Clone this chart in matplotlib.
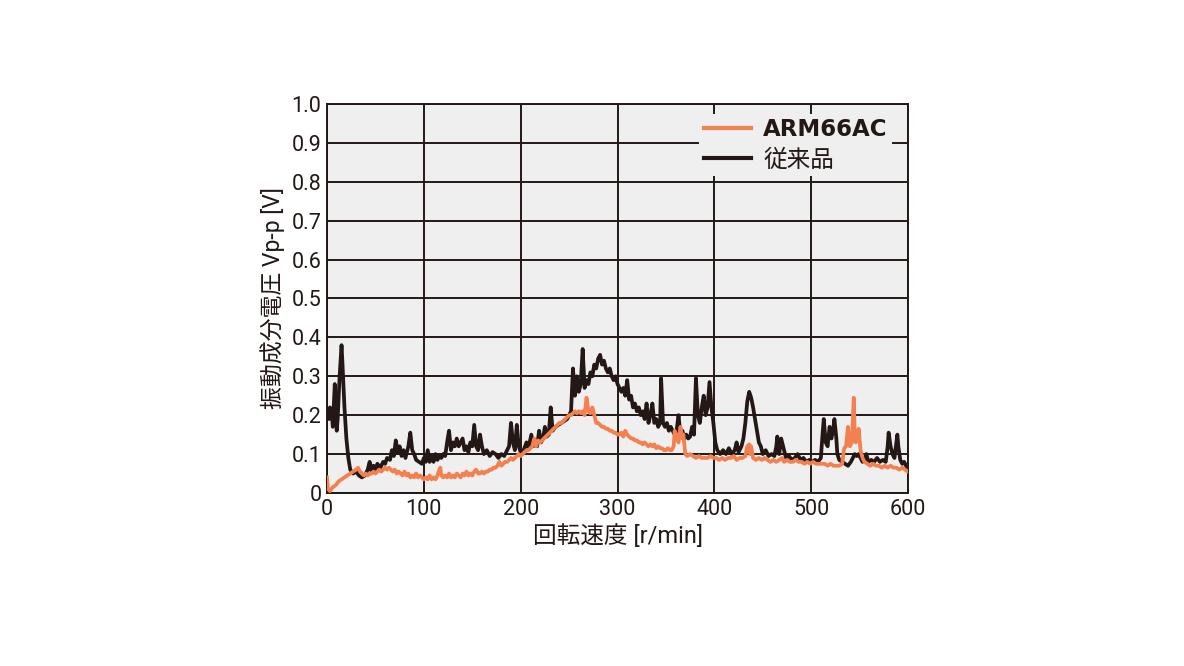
import matplotlib
matplotlib.use("Agg")
import matplotlib.pyplot as plt

# 従来品 (conventional product)
conv_x = [0, 2, 3, 5, 6, 8, 9, 10, 11, 13, 15, 16, 18, 20, 22, 24, 27, 30, 33, 36, 39, 42, 44, 46, 48, 50,
          52, 55, 58, 60, 62, 65, 67, 69, 71, 73, 75, 77, 79, 81, 84, 86, 88, 90, 92, 95, 98, 100, 102, 104,
          106, 108, 110, 112, 114, 116, 118, 120, 122, 124, 126, 128, 130, 132, 134, 136, 138, 140, 142, 144,
          146, 148, 150, 152, 154, 156, 158, 160, 162, 165, 168, 171, 174, 177, 180, 183, 186, 188, 190, 192,
          194, 196, 198, 200, 203, 206, 208, 211, 213, 215, 217, 219, 221, 223, 225, 227, 229, 231, 233, 236,
          239, 242, 245, 248, 250, 252, 254, 256, 258, 260, 262, 264, 266, 268, 270, 272, 274, 276, 278, 280,
          282, 284, 286, 288, 290, 292, 294, 296, 298, 300, 302, 304, 306, 308, 310, 312, 314, 316, 318, 320,
          322, 324, 326, 328, 330, 332, 334, 336, 338, 340, 342, 344, 345, 347, 349, 351, 353, 355, 357, 359,
          361, 363, 365, 367, 369, 371, 373, 375, 377, 379, 381, 383, 385, 387, 389, 391, 393, 395, 397, 399,
          401, 403, 406, 409, 412, 415, 418, 421, 423, 425, 428, 430, 432, 434, 436, 438, 440, 442, 444, 446,
          448, 450, 453, 456, 459, 462, 464, 465, 467, 469, 471, 474, 477, 480, 483, 486, 489, 492, 495, 498,
          501, 504, 507, 510, 512, 513, 515, 517, 519, 521, 523, 524, 526, 527, 529, 532, 535, 538, 541, 543,
          545, 547, 549, 551, 553, 555, 557, 559, 562, 565, 568, 571, 574, 577, 579, 580, 582, 584, 586, 588,
          589, 590, 592, 594, 596, 598, 600]
conv_y = [0.21, 0.19, 0.22, 0.20, 0.17, 0.28, 0.22, 0.16, 0.19, 0.30, 0.38, 0.33, 0.22, 0.14, 0.09, 0.06,
          0.05, 0.055, 0.045, 0.04, 0.045, 0.06, 0.08, 0.055, 0.07, 0.06, 0.075, 0.065, 0.08, 0.075, 0.09,
          0.085, 0.11, 0.095, 0.135, 0.105, 0.12, 0.095, 0.11, 0.09, 0.12, 0.155, 0.11, 0.10, 0.085, 0.08,
          0.075, 0.09, 0.08, 0.11, 0.08, 0.095, 0.08, 0.10, 0.085, 0.095, 0.09, 0.10, 0.095, 0.13, 0.16, 0.11,
          0.13, 0.12, 0.14, 0.12, 0.13, 0.14, 0.11, 0.12, 0.105, 0.13, 0.12, 0.175, 0.12, 0.11, 0.15, 0.12,
          0.10, 0.11, 0.095, 0.105, 0.10, 0.09, 0.10, 0.095, 0.11, 0.12, 0.18, 0.13, 0.11, 0.175, 0.12, 0.105,
          0.11, 0.13, 0.115, 0.15, 0.12, 0.13, 0.12, 0.16, 0.13, 0.14, 0.17, 0.145, 0.15, 0.22, 0.16, 0.17,
          0.175, 0.18, 0.185, 0.19, 0.20, 0.21, 0.32, 0.25, 0.30, 0.26, 0.28, 0.37, 0.27, 0.29, 0.28, 0.31,
          0.30, 0.33, 0.32, 0.345, 0.355, 0.33, 0.34, 0.32, 0.31, 0.32, 0.30, 0.29, 0.30, 0.28, 0.27, 0.26,
          0.27, 0.25, 0.29, 0.24, 0.25, 0.22, 0.23, 0.21, 0.22, 0.20, 0.21, 0.19, 0.23, 0.18, 0.20, 0.23, 0.18,
          0.19, 0.17, 0.18, 0.295, 0.18, 0.17, 0.18, 0.16, 0.17, 0.16, 0.15, 0.16, 0.20, 0.15, 0.16, 0.14,
          0.15, 0.14, 0.145, 0.17, 0.15, 0.295, 0.20, 0.18, 0.22, 0.25, 0.20, 0.22, 0.285, 0.22, 0.18, 0.13,
          0.11, 0.10, 0.11, 0.10, 0.115, 0.10, 0.11, 0.13, 0.105, 0.12, 0.14, 0.18, 0.235, 0.26, 0.245, 0.22,
          0.19, 0.16, 0.13, 0.12, 0.10, 0.11, 0.095, 0.10, 0.095, 0.12, 0.145, 0.10, 0.14, 0.12, 0.09, 0.095,
          0.085, 0.09, 0.10, 0.085, 0.09, 0.08, 0.085, 0.08, 0.085, 0.08, 0.09, 0.16, 0.19, 0.13, 0.12, 0.17,
          0.14, 0.17, 0.19, 0.14, 0.10, 0.085, 0.08, 0.075, 0.07, 0.08, 0.09, 0.10, 0.095, 0.10, 0.09, 0.08,
          0.085, 0.10, 0.08, 0.085, 0.08, 0.09, 0.08, 0.085, 0.08, 0.12, 0.155, 0.12, 0.10, 0.09, 0.13, 0.15,
          0.12, 0.085, 0.075, 0.08, 0.07, 0.06]

# ARM66AC
arm_x = [0, 1, 3, 6, 9, 12, 15, 18, 21, 24, 27, 30, 32, 34, 36, 38, 40, 42, 44, 46, 48, 50, 52, 54, 56, 58,
         60, 62, 64, 66, 68, 70, 72, 74, 76, 78, 80, 82, 84, 86, 88, 90, 92, 94, 96, 98, 100, 102, 104, 106,
         108, 110, 112, 114, 116, 117, 118, 120, 122, 124, 126, 128, 130, 132, 134, 136, 138, 140, 142, 144,
         146, 148, 150, 152, 154, 156, 158, 160, 162, 164, 166, 168, 170, 172, 174, 176, 178, 180, 182, 184,
         186, 188, 190, 192, 194, 196, 198, 200, 202, 204, 206, 208, 210, 212, 214, 216, 218, 220, 222, 224,
         226, 228, 230, 232, 234, 236, 238, 240, 242, 244, 246, 248, 250, 252, 254, 256, 258, 260, 262, 264,
         266, 268, 270, 272, 274, 276, 278, 280, 282, 284, 286, 288, 290, 292, 294, 296, 298, 300, 302, 304,
         306, 308, 310, 312, 314, 316, 318, 320, 322, 324, 326, 328, 330, 332, 334, 336, 338, 340, 342, 344,
         346, 348, 350, 352, 354, 356, 358, 359, 361, 363, 365, 367, 368, 370, 372, 375, 378, 381, 384, 387,
         390, 393, 396, 399, 402, 405, 408, 411, 414, 417, 420, 423, 426, 429, 432, 434, 436, 437, 438, 440,
         443, 446, 449, 452, 455, 458, 461, 464, 467, 470, 472, 475, 478, 481, 484, 487, 490, 493, 496, 499,
         502, 505, 508, 511, 514, 517, 520, 523, 526, 529, 532, 534, 536, 538, 540, 542, 544, 545, 546, 548,
         549, 551, 553, 555, 558, 561, 564, 567, 570, 573, 576, 579, 582, 585, 588, 591, 594, 597, 600]
arm_y = [0.04, 0.01, 0.005, 0.015, 0.02, 0.03, 0.035, 0.04, 0.045, 0.05, 0.055, 0.06, 0.065, 0.055, 0.05,
         0.045, 0.05, 0.045, 0.05, 0.05, 0.055, 0.05, 0.055, 0.06, 0.055, 0.06, 0.065, 0.06, 0.065, 0.06,
         0.055, 0.06, 0.05, 0.055, 0.05, 0.045, 0.055, 0.045, 0.05, 0.04, 0.045, 0.04, 0.05, 0.04, 0.045,
         0.04, 0.035, 0.04, 0.035, 0.045, 0.035, 0.04, 0.035, 0.045, 0.06, 0.065, 0.045, 0.04, 0.045, 0.04,
         0.05, 0.04, 0.045, 0.04, 0.05, 0.045, 0.04, 0.05, 0.045, 0.055, 0.045, 0.05, 0.045, 0.055, 0.06,
         0.05, 0.05, 0.055, 0.05, 0.055, 0.055, 0.06, 0.06, 0.065, 0.065, 0.07, 0.08, 0.07, 0.075, 0.08,
         0.08, 0.085, 0.09, 0.085, 0.09, 0.095, 0.10, 0.095, 0.10, 0.105, 0.11, 0.11, 0.115, 0.12, 0.14,
         0.12, 0.135, 0.13, 0.135, 0.14, 0.145, 0.15, 0.155, 0.16, 0.165, 0.17, 0.175, 0.18, 0.18, 0.185,
         0.19, 0.195, 0.20, 0.20, 0.205, 0.21, 0.205, 0.21, 0.205, 0.21, 0.20, 0.245, 0.21, 0.205, 0.22,
         0.20, 0.18, 0.18, 0.175, 0.17, 0.17, 0.165, 0.165, 0.16, 0.16, 0.155, 0.155, 0.15, 0.15, 0.155,
         0.145, 0.16, 0.15, 0.145, 0.14, 0.14, 0.135, 0.135, 0.13, 0.13, 0.125, 0.13, 0.125, 0.12, 0.125,
         0.12, 0.125, 0.115, 0.12, 0.115, 0.115, 0.11, 0.11, 0.115, 0.11, 0.11, 0.12, 0.16, 0.14, 0.13,
         0.17, 0.14, 0.15, 0.10, 0.095, 0.10, 0.095, 0.09, 0.095, 0.09, 0.09, 0.09, 0.095, 0.09, 0.09,
         0.085, 0.09, 0.085, 0.09, 0.09, 0.095, 0.085, 0.09, 0.09, 0.095, 0.12, 0.125, 0.10, 0.12, 0.09,
         0.085, 0.09, 0.085, 0.09, 0.085, 0.08, 0.085, 0.08, 0.085, 0.09, 0.08, 0.085, 0.08, 0.08, 0.085,
         0.08, 0.08, 0.075, 0.08, 0.075, 0.08, 0.075, 0.075, 0.075, 0.075, 0.07, 0.075, 0.07, 0.07, 0.07,
         0.075, 0.115, 0.12, 0.17, 0.12, 0.13, 0.245, 0.15, 0.13, 0.14, 0.165, 0.11, 0.09, 0.08, 0.075,
         0.07, 0.075, 0.07, 0.07, 0.065, 0.07, 0.065, 0.07, 0.065, 0.065, 0.06, 0.065, 0.06, 0.055]

x_ticks = [0, 100, 200, 300, 400, 500, 600]
y_ticks = [0, 0.1, 0.2, 0.3, 0.4, 0.5, 0.6, 0.7, 0.8, 0.9, 1.0]
y_tick_labels = ["0", "0.1", "0.2", "0.3", "0.4", "0.5", "0.6", "0.7", "0.8", "0.9", "1.0"]
series_labels = ["ARM66AC", "従来品"]
x_label = "回転速度 [r/min]"
y_label = "振動成分電圧 Vp-p [V]"

FAM = ["Roboto", "Noto Sans CJK JP", "DejaVu Sans"]
plt.rcParams["font.family"] = FAM

ORANGE = "#F5804F"
BLACK = "#231815"

fig = plt.figure(figsize=(11.84, 6.66), dpi=100)
ax = fig.add_axes([0.2762, 0.2598, 0.4907, 0.5841])
ax.set_facecolor("#EFEFEF")

l2, = ax.plot(conv_x, conv_y, color=BLACK, lw=2.7, zorder=3)
l1, = ax.plot(arm_x, arm_y, color=ORANGE, lw=2.7, zorder=4)

ax.set_xlim(0, 600)
ax.set_ylim(0, 1.0)
ax.set_xticks(x_ticks)
ax.set_yticks(y_ticks)
ax.set_yticklabels(y_tick_labels)
ax.tick_params(length=0, labelsize=15.5, colors=BLACK, pad=4)
ax.grid(True, color=BLACK, lw=1.4, zorder=1)
ax.set_axisbelow(True)
for s in ax.spines.values():
    s.set_color(BLACK)
    s.set_linewidth(1.4)

ax.set_xlabel(x_label, fontsize=17, color=BLACK, labelpad=3)
ax.set_ylabel(y_label, fontsize=16.5, color=BLACK, labelpad=5)

leg = ax.legend([l1, l2], series_labels, loc="upper right", bbox_to_anchor=(0.973, 0.975),
                frameon=True, facecolor="#EFEFEF", edgecolor="none", framealpha=1, fancybox=False,
                fontsize=17, handlelength=2.0, handletextpad=0.5, borderpad=0.2, labelspacing=0.3,
                borderaxespad=0)
t0 = leg.get_texts()[0]
t0.set_fontweight("bold")
t0.set_family(["DejaVu Sans"])
t0.set_fontsize(16.5)
for t in leg.get_texts():
    t.set_color(BLACK)
for h in leg.legend_handles:
    h.set_linewidth(3)
leg.set_zorder(5)

fig.savefig("out.png", dpi=100)
